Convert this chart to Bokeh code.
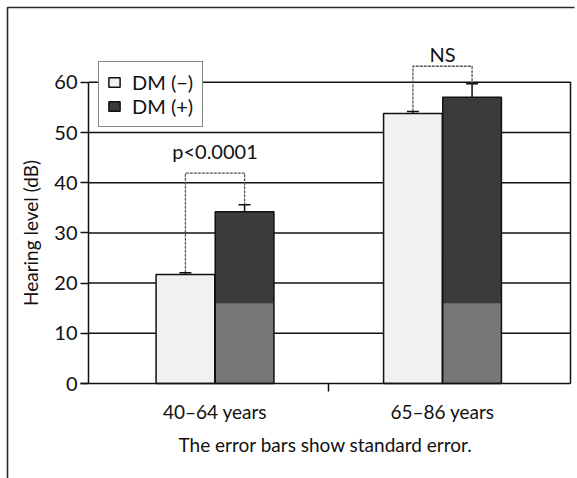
from bokeh.plotting import figure
from bokeh.models import (LinearAxis, FixedTicker, Legend, LegendItem, Whisker, TeeHead,
                          ColumnDataSource, Range1d)
from bokeh.core.properties import value
from bokeh.embed import file_html
from bokeh.resources import INLINE

# ---------------- data ----------------
groups = ["40–64 years", "65–86 years"]
series_labels = ["DM (−)", "DM (+)"]
dm_minus = [21.7, 53.8]
dm_minus_se = [0.35, 0.4]
dm_plus = [34.2, 57.0]
dm_plus_se = [1.4, 2.7]
sig_labels = ["p<0.0001", "NS"]
bracket_top = [41.9, 63.2]
sig_label_y = [46.3, 65.6]
y_ticks = [0, 10, 20, 30, 40, 50, 60]
y_title = "Hearing level (dB)"
caption = "The error bars show standard error."

# ---------------- layout / style constants ----------------
W, H = 577, 478
X0_PX, X_PER = 214.5, 227.5   # pixel of group 1 centre, pixels per group step
Y0_PX, Y_PER = 383.0, 5.02    # pixel of y = 0, pixels per dB
FONT = "Lato"
INK = "#111111"
LIGHT = "#f1f1f1"
DARK = "#3b3b3b"
DARK_LOW = "#777777"
SHADE_SPLIT = 16   # halftone band of the dark bars
DODGE = 0.13
BAR_W = 0.258


def fx(px):
    return 1 + (px - X0_PX) / X_PER


def fy(py):
    return (Y0_PX - py) / Y_PER


AXIS_X = fx(88)
RIGHT_X = fx(570)
gx = [i + 1 for i in range(len(groups))]

p = figure(width=W, height=H, output_backend="svg", toolbar_location=None,
           x_axis_type=None, y_axis_type=None,
           x_range=Range1d(fx(0), fx(W)), y_range=Range1d(fy(H), fy(0)),
           min_border=0, min_border_left=0, min_border_right=0,
           min_border_top=0, min_border_bottom=0)
p.outline_line_color = None
p.background_fill_color = "white"
p.border_fill_color = "white"

# outer frame (top & left)
p.line([fx(7), fx(7), fx(574)], [fy(H + 5), fy(7), fy(7)], line_color="#2a2a2a", line_width=1.6)

# horizontal grid lines and plot frame
inner = [t for t in y_ticks if 0 < t < y_ticks[-1]]
p.segment(x0=[AXIS_X] * len(inner), x1=[RIGHT_X] * len(inner), y0=inner, y1=inner,
          line_color=INK, line_width=1.5)
p.line([AXIS_X, RIGHT_X, RIGHT_X], [y_ticks[-1], y_ticks[-1], 0], line_color=INK, line_width=1.5)

# bars
xm = [g - DODGE for g in gx]
xp = [g + DODGE for g in gx]
r_minus = p.vbar(x=xm, top=dm_minus, bottom=0, width=BAR_W, fill_color=LIGHT,
                 line_color=INK, line_width=1.5)
r_plus = p.vbar(x=xp, top=dm_plus, bottom=0, width=BAR_W, fill_color=DARK, line_color=None)
p.vbar(x=xp, top=[min(SHADE_SPLIT, v) for v in dm_plus], bottom=0, width=BAR_W,
       fill_color=DARK_LOW, line_color=None)
r_plus_outline = p.vbar(x=xp, top=dm_plus, bottom=0, width=BAR_W, fill_color=None,
                        line_color=INK, line_width=1.5)

# error bars
err_src = ColumnDataSource(dict(
    x=xm + xp,
    lo=dm_minus + dm_plus,
    hi=[v + e for v, e in zip(dm_minus, dm_minus_se)] + [v + e for v, e in zip(dm_plus, dm_plus_se)],
))
wh = Whisker(base="x", lower="lo", upper="hi", source=err_src, level="overlay",
             line_color=INK, line_width=1.5, lower_head=None,
             upper_head=TeeHead(size=12, line_color=INK, line_width=1.5))
p.add_layout(wh)

# significance brackets
bxs, bys = [], []
for i in range(len(groups)):
    bxs.append([xm[i], xm[i], xp[i], xp[i]])
    bys.append([dm_minus[i] + dm_minus_se[i], bracket_top[i], bracket_top[i], dm_plus[i] + dm_plus_se[i]])
p.multi_line(xs=bxs, ys=bys, line_color="#555555", line_width=1.3, line_dash="3 1")
p.text(x=gx, y=sig_label_y, text=sig_labels, text_align="center", text_baseline="alphabetic",
       text_font=value(FONT), text_font_size="20px", text_color=INK)

# axes
yaxis = LinearAxis(fixed_location=AXIS_X, ticker=FixedTicker(ticks=y_ticks), bounds=(0, y_ticks[-1]),
                   axis_label=y_title)
yaxis.axis_line_color = INK
yaxis.axis_line_width = 1.5
yaxis.major_tick_out = 8
yaxis.major_tick_in = 0
yaxis.major_tick_line_color = INK
yaxis.major_tick_line_width = 1.5
yaxis.minor_tick_line_color = None
yaxis.major_label_standoff = 3
yaxis.major_label_text_font = FONT
yaxis.major_label_text_font_size = "20px"
yaxis.major_label_text_color = INK
yaxis.axis_label_text_font = FONT
yaxis.axis_label_text_font_size = "19px"
yaxis.axis_label_text_font_style = "normal"
yaxis.axis_label_text_color = INK
yaxis.axis_label_standoff = 9
p.add_layout(yaxis, "left")

xaxis = LinearAxis(fixed_location=0, ticker=FixedTicker(ticks=gx, minor_ticks=[1.5]),
                   bounds=(fx(80), RIGHT_X), axis_label=caption,
                   major_label_overrides={g: lab for g, lab in zip(gx, groups)})
xaxis.axis_line_color = INK
xaxis.axis_line_width = 1.5
xaxis.major_tick_line_color = None
xaxis.minor_tick_out = 8
xaxis.minor_tick_in = 0
xaxis.minor_tick_line_color = INK
xaxis.minor_tick_line_width = 1.5
xaxis.major_label_standoff = 8
xaxis.major_label_text_font = FONT
xaxis.major_label_text_font_size = "19px"
xaxis.major_label_text_color = INK
xaxis.axis_label_text_font = FONT
xaxis.axis_label_text_font_size = "19px"
xaxis.axis_label_text_font_style = "normal"
xaxis.axis_label_text_color = INK
xaxis.axis_label_standoff = 7
p.add_layout(xaxis, "below")

# legend
legend = Legend(items=[LegendItem(label=series_labels[0], renderers=[r_minus]),
                       LegendItem(label=series_labels[1], renderers=[r_plus, r_plus_outline])],
                location=(98, H - 127), orientation="vertical")
legend.glyph_width = 14
legend.glyph_height = 12
legend.label_standoff = 11
legend.label_width = 62
legend.label_height = 20
legend.padding = 8
legend.spacing = 0
legend.margin = 0
legend.label_text_font = FONT
legend.label_text_font_size = "20px"
legend.label_text_color = INK
legend.border_line_color = INK
legend.border_line_width = 1.5
legend.background_fill_color = "white"
legend.background_fill_alpha = 1
p.add_layout(legend)

open("out.html", "w").write(file_html(p, INLINE))
